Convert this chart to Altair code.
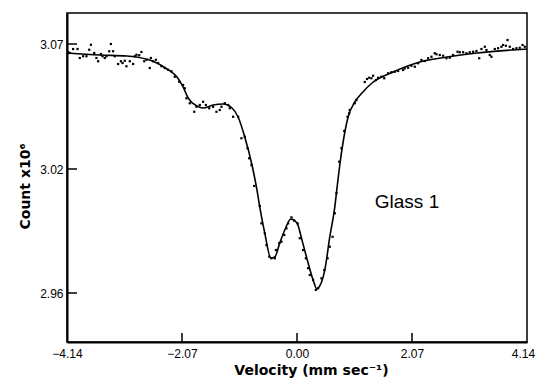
import altair as alt
import pandas as pd

# Fitted curve (velocity mm/s, count x10^6)
curve_v = [-4.14, -3.55, -3.06, -2.56, -2.34, -2.16, -2.05, -1.96, -1.80, -1.69,
           -1.51, -1.33, -1.17, -1.06, -0.94, -0.81, -0.72, -0.67, -0.58, -0.47,
           -0.40, -0.31, -0.22, -0.11, 0.00, 0.09, 0.20, 0.29, 0.36, 0.41,
           0.50, 0.59, 0.68, 0.72, 0.77, 0.83, 0.92, 1.04, 1.17, 1.35,
           1.73, 2.21, 2.70, 3.24, 4.14]
curve_c = [3.0664, 3.0656, 3.0652, 3.0628, 3.0600, 3.0568, 3.0528, 3.0484, 3.0452, 3.0444,
           3.0456, 3.0460, 3.0444, 3.0408, 3.0328, 3.0216, 3.0098, 3.0016, 2.9890, 2.9769,
           2.9774, 2.9842, 2.9905, 2.9958, 2.9939, 2.9856, 2.9745, 2.9663, 2.9619, 2.9634,
           2.9711, 2.9871, 3.0016, 3.0108, 3.0216, 3.0308, 3.0408, 3.0468, 3.0504, 3.0544,
           3.0588, 3.0628, 3.0648, 3.0664, 3.0680]

# Measured points
pts_v = [-4.12, -4.09, -4.03, -3.95, -3.91, -3.85, -3.79, -3.74, -3.71, -3.65,
         -3.61, -3.58, -3.53, -3.50, -3.46, -3.43, -3.38, -3.35, -3.31, -3.28,
         -3.22, -3.17, -3.14, -3.10, -3.07, -3.01, -2.95, -2.92, -2.89, -2.84,
         -2.80, -2.75, -2.71, -2.65, -2.63, -2.59, -2.54, -2.50, -2.44, -2.38,
         -2.32, -2.26, -2.20, -2.12, -2.05, -2.02, -1.99, -1.93, -1.85, -1.81,
         -1.75, -1.69, -1.64, -1.58, -1.51, -1.45, -1.39, -1.36, -1.30, -1.24,
         -1.21, -1.15, -1.06, -1.00, -0.94, -0.89, -0.86, -0.82, -0.77, -0.67,
         -0.64, -0.58, -0.55, -0.50, -0.46, -0.40, -0.38, -0.32, -0.28, -0.23,
         -0.19, -0.16, -0.10, -0.05, 0.01, 0.05, 0.11, 0.16, 0.20, 0.23,
         0.29, 0.34, 0.38, 0.44, 0.49, 0.55, 0.59, 0.64, 0.68, 0.71,
         0.76, 0.80, 0.85, 0.91, 0.94, 0.95, 1.04, 1.07, 1.22, 1.26,
         1.30, 1.34, 1.37, 1.42, 1.46, 1.52, 1.57, 1.64, 1.70, 1.76,
         1.82, 1.91, 1.94, 2.00, 2.06, 2.12, 2.18, 2.24, 2.30, 2.36,
         2.42, 2.48, 2.51, 2.57, 2.63, 2.69, 2.75, 2.81, 2.89, 2.93,
         2.99, 3.05, 3.11, 3.17, 3.23, 3.28, 3.32, 3.38, 3.41, 3.47,
         3.50, 3.56, 3.62, 3.68, 3.71, 3.76, 3.79, 3.83, 3.89, 3.95,
         4.01, 4.06, 4.10]
pts_c = [3.0668, 3.0664, 3.0680, 3.0680, 3.0644, 3.0651, 3.0651, 3.0677, 3.0697, 3.0664,
         3.0644, 3.0631, 3.0660, 3.0651, 3.0644, 3.0651, 3.0671, 3.0700, 3.0671, 3.0651,
         3.0620, 3.0631, 3.0624, 3.0633, 3.0611, 3.0631, 3.0620, 3.0651, 3.0657, 3.0655,
         3.0668, 3.0631, 3.0637, 3.0604, 3.0644, 3.0631, 3.0637, 3.0624, 3.0611, 3.0604,
         3.0597, 3.0591, 3.0569, 3.0549, 3.0536, 3.0523, 3.0483, 3.0463, 3.0429, 3.0449,
         3.0456, 3.0469, 3.0456, 3.0443, 3.0449, 3.0429, 3.0436, 3.0449, 3.0463, 3.0456,
         3.0443, 3.0409, 3.0409, 3.0323, 3.0329, 3.0283, 3.0243, 3.0216, 3.0118, 3.0021,
         2.9937, 2.9889, 2.9832, 2.9776, 2.9768, 2.9768, 2.9808, 2.9841, 2.9848, 2.9881,
         2.9913, 2.9937, 2.9966, 2.9950, 2.9937, 2.9865, 2.9808, 2.9768, 2.9720, 2.9687,
         2.9663, 2.9615, 2.9623, 2.9671, 2.9711, 2.9768, 2.9824, 2.9872, 2.9986, 3.0083,
         3.0229, 3.0283, 3.0352, 3.0409, 3.0423, 3.0436, 3.0463, 3.0476, 3.0548, 3.0560,
         3.0565, 3.0563, 3.0573, 3.0556, 3.0565, 3.0569, 3.0563, 3.0583, 3.0587, 3.0589,
         3.0592, 3.0596, 3.0603, 3.0605, 3.0613, 3.0609, 3.0623, 3.0636, 3.0632, 3.0643,
         3.0649, 3.0663, 3.0659, 3.0656, 3.0653, 3.0643, 3.0645, 3.0656, 3.0669, 3.0667,
         3.0667, 3.0663, 3.0667, 3.0669, 3.0672, 3.0643, 3.0680, 3.0689, 3.0676, 3.0656,
         3.0649, 3.0680, 3.0683, 3.0689, 3.0696, 3.0693, 3.0716, 3.0689, 3.0680, 3.0683,
         3.0685, 3.0696, 3.0689]

x_ticks = [-4.14, -2.07, 0.00, 2.07, 4.14]
y_ticks = [2.96, 3.02, 3.07]
inner_x_ticks = [-2.07, 0.00, 2.07]

W, H = 460, 329

curve_df = pd.DataFrame({"v": curve_v, "c": curve_c})
pts_df = pd.DataFrame({"v": pts_v, "c": pts_c})

xscale = alt.Scale(domain=[-4.14, 4.14], nice=False, zero=False)
yscale = alt.Scale(domain=[2.9363, 2.96, 3.02, 3.07, 3.0824],
                   range=[H, 280, 156, 31, 0], nice=False, zero=False)

FONT = "Liberation Sans"

x_axis = alt.Axis(values=x_ticks, format=".2f", grid=False, ticks=False,
                  labelFlush=False, labelPadding=6, labelFontSize=12, labelFont=FONT,
                  labelOffset={"condition": {"test": "datum.value > 4", "value": -4},
                               "value": 0},
                  labelColor="black", domainColor="black", domainWidth=2,
                  title="Velocity (mm sec\u207b\u00b9)", titleFont="DejaVu Sans",
                  titleFontSize=14, titleFontWeight="bold", titleColor="black",
                  titleX=244, titleY=21)
y_axis = alt.Axis(values=y_ticks, format=".2f", grid=False, ticks=False,
                  labelPadding=4, labelFontSize=12, labelFont=FONT,
                  labelColor="black", domainColor="black", domainWidth=2,
                  title="Count x10\u2076", titleFont="DejaVu Sans",
                  titleFontSize=14, titleFontWeight="bold", titleColor="black",
                  titleX=-35, titleY=173)

line = alt.Chart(curve_df).mark_line(color="black", strokeWidth=1.6,
                                     interpolate="monotone").encode(
    x=alt.X("v:Q", scale=xscale, axis=x_axis),
    y=alt.Y("c:Q", scale=yscale, axis=y_axis),
)

dots = alt.Chart(pts_df).mark_square(color="black", size=5, opacity=1).encode(
    x=alt.X("v:Q", scale=xscale),
    y=alt.Y("c:Q", scale=yscale),
)

ytick_df = pd.DataFrame({"c": y_ticks})
yticks = alt.Chart(ytick_df).mark_rule(color="black", strokeWidth=1.5).encode(
    y=alt.Y("c:Q", scale=yscale),
    x=alt.value(0),
    x2=alt.value(10),
)

xtick_df = pd.DataFrame({"v": inner_x_ticks})
xticks = alt.Chart(xtick_df).mark_rule(color="black", strokeWidth=1.5).encode(
    x=alt.X("v:Q", scale=xscale),
    y=alt.value(H),
    y2=alt.value(H - 9),
)

label_df = pd.DataFrame({"v": [1.98], "c": [3.004], "t": ["Glass 1"]})
label = alt.Chart(label_df).mark_text(font=FONT, fontSize=19, color="black").encode(
    x=alt.X("v:Q", scale=xscale),
    y=alt.Y("c:Q", scale=yscale),
    text="t:N",
)

chart = alt.layer(line, dots, yticks, xticks, label).properties(
    width=W, height=H,
    autosize=alt.AutoSizeParams(type="none"),
    padding={"left": 67, "top": 13, "right": 10, "bottom": 42},
    background="white",
).configure_view(stroke="black", strokeWidth=1.5)

chart.save("out.html", embed_options={"renderer": "svg", "actions": False})
